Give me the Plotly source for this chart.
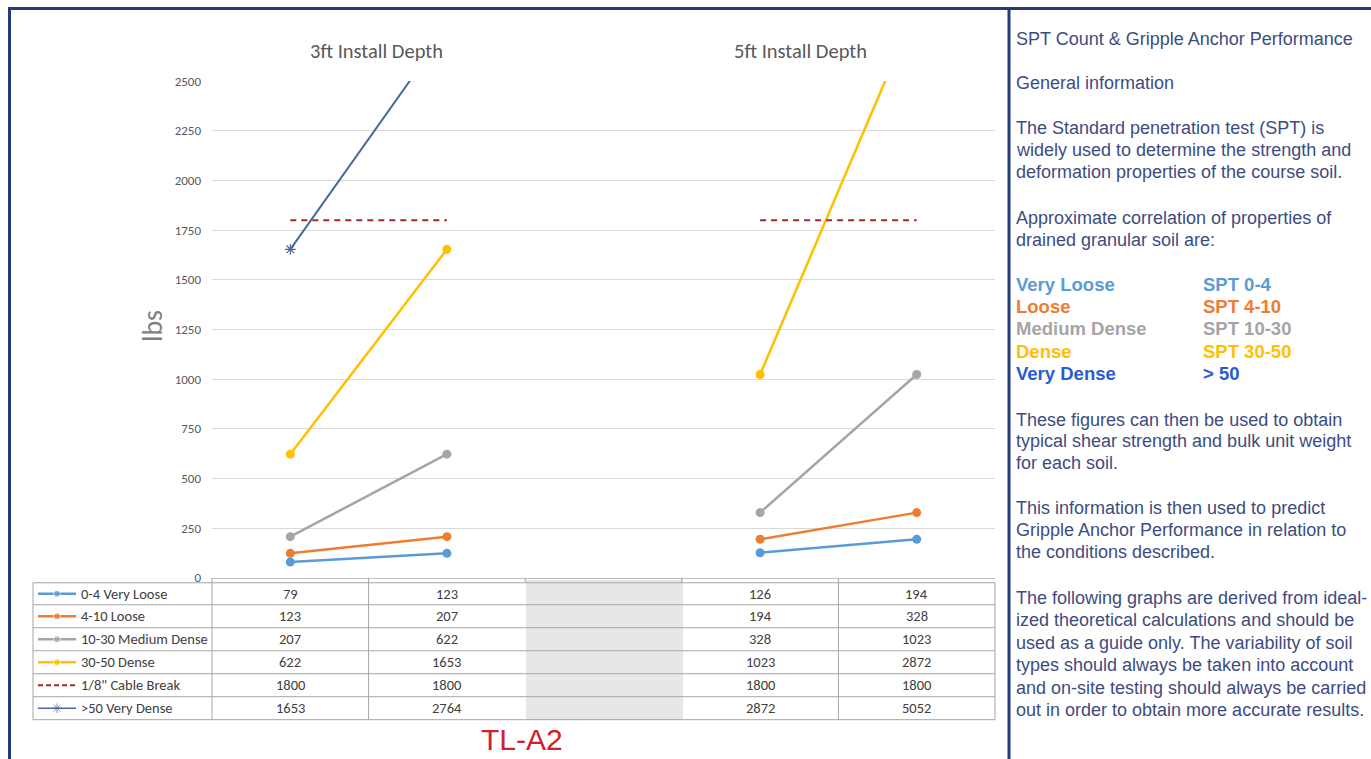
import plotly.graph_objects as go

W = 1371
# the photographed page shows the figure squeezed vertically (screen_y ~= 6.9 + 0.981*fig_y);
# layout positions below are given in screen pixels and converted.
SY0, SK = 6.9, 0.981
HF = 767

# ---------------- data ----------------
columns = ["3ft-a", "3ft-b", "gap", "5ft-a", "5ft-b"]
series_names = ["0-4 Very Loose", "4-10 Loose", "10-30 Medium Dense", "30-50 Dense",
                '1/8" Cable Break', ">50 Very Dense"]
very_loose = [79, 123, None, 126, 194]
loose = [123, 207, None, 194, 328]
medium_dense = [207, 622, None, 328, 1023]
dense = [622, 1653, None, 1023, 2872]
cable_break = [1800, 1800, None, 1800, 1800]
very_dense = [1653, 2764, None, 2872, 5052]
group_titles = ["3ft Install Depth", "5ft Install Depth"]
y_ticks = [0, 250, 500, 750, 1000, 1250, 1500, 1750, 2000, 2250, 2500]

series_values = [very_loose, loose, medium_dense, dense, cable_break, very_dense]
series_colors = ["#5B9BD5", "#ED7D31", "#A5A5A5", "#FFC000", "#A3282B", "#4A6898"]

def px(x):
    return x / W

def py(y):
    return 1 - ((y - SY0) / SK) / HF

cal = "Carlito, Lato, Open Sans"
fig = go.Figure()

# main series
for name, vals, col in zip(series_names, series_values, series_colors):
    if name.startswith("1/8"):
        fig.add_trace(go.Scatter(x=columns, y=vals, mode="lines", name=name,
                                 line=dict(color=col, width=2, dash="6px,5px"),
                                 connectgaps=False, showlegend=False))
    elif name.startswith(">50"):
        fig.add_trace(go.Scatter(x=columns, y=vals, mode="lines+markers", name=name,
                                 line=dict(color=col, width=2),
                                 marker=dict(symbol="asterisk-open", size=9,
                                             line=dict(color="#6F8FC0", width=1.2)),
                                 connectgaps=False, showlegend=False))
    else:
        fig.add_trace(go.Scatter(x=columns, y=vals, mode="lines+markers", name=name,
                                 line=dict(color=col, width=2.5),
                                 marker=dict(symbol="circle", size=9, color=col),
                                 connectgaps=False, showlegend=False))

# legend icons inside table (overlay pixel axes)
row_tops = [583, 605, 628, 651, 674, 697, 720]
row_centers = [(row_tops[i] + row_tops[i + 1]) / 2 for i in range(6)]
for i, (name, col) in enumerate(zip(series_names, series_colors)):
    yc = row_centers[i]
    if name.startswith("1/8"):
        fig.add_trace(go.Scatter(x=[38, 76], y=[yc, yc], mode="lines", xaxis="x2", yaxis="y2",
                                 line=dict(color=col, width=2, dash="5px,3px"), showlegend=False,
                                 hoverinfo="skip"))
    elif name.startswith(">50"):
        fig.add_trace(go.Scatter(x=[38, 57, 76], y=[yc, yc, yc], mode="lines+markers",
                                 xaxis="x2", yaxis="y2", line=dict(color=col, width=1.5),
                                 marker=dict(symbol="asterisk-open", size=[0, 8, 0],
                                             line=dict(color="#6F8FC0", width=1)),
                                 showlegend=False, hoverinfo="skip"))
    else:
        fig.add_trace(go.Scatter(x=[38, 57, 76], y=[yc, yc, yc], mode="lines+markers",
                                 xaxis="x2", yaxis="y2", line=dict(color=col, width=2.5),
                                 marker=dict(symbol="circle", size=[0, 7, 0], color=col),
                                 showlegend=False, hoverinfo="skip"))

shapes = []
annotations = []

# outer borders
navy = "#243B7A"
shapes.append(dict(type="line", xref="paper", yref="paper", x0=px(8), x1=px(1371),
                   y0=py(8.5), y1=py(8.5), line=dict(color=navy, width=3)))
shapes.append(dict(type="line", xref="paper", yref="paper", x0=px(9.5), x1=px(9.5),
                   y0=py(7), y1=0, line=dict(color=navy, width=3)))
shapes.append(dict(type="line", xref="paper", yref="paper", x0=px(1009), x1=px(1009),
                   y0=py(7), y1=0, line=dict(color=navy, width=3)))

# table
grid = "#A6A6A6"
shapes.append(dict(type="rect", xref="paper", yref="paper", x0=px(526), x1=px(683),
                   y0=py(580), y1=py(720), fillcolor="#E6E7E9", line=dict(width=0), layer="below"))
for yt in row_tops:
    shapes.append(dict(type="line", xref="paper", yref="paper", x0=px(33), x1=px(995),
                       y0=py(yt), y1=py(yt), line=dict(color=grid, width=1)))
for xv in [33, 212, 995]:
    shapes.append(dict(type="line", xref="paper", yref="paper", x0=px(xv), x1=px(xv),
                       y0=py(583 if xv != 212 else 578), y1=py(720), line=dict(color=grid, width=1)))
for b in [0.5, 1.5, 2.5, 3.5]:
    shapes.append(dict(type="line", xref="x", yref="paper", x0=b, x1=b,
                       y0=py(578), y1=py(720 if b in (0.5, 3.5) else 583),
                       line=dict(color=grid, width=1)))

# table texts
for i, (name, vals) in enumerate(zip(series_names, series_values)):
    yc = py(row_centers[i])
    annotations.append(dict(x=px(79), y=yc, xref="paper", yref="paper", text=name,
                            showarrow=False, xanchor="left", yanchor="middle",
                            font=dict(family=cal, size=14.5, color="#404040")))
    for j, v in enumerate(vals):
        if v is None:
            continue
        annotations.append(dict(x=j, y=yc, xref="x", yref="paper", text=str(v),
                                showarrow=False, xanchor="center", yanchor="middle",
                                font=dict(family=cal, size=14.5, color="#404040")))

# group titles
for g, title in enumerate(group_titles):
    annotations.append(dict(x=px(376 if g == 0 else 801), y=py(51), xref="paper", yref="paper",
                            text=title, showarrow=False, xanchor="center", yanchor="middle",
                            font=dict(family=cal, size=20.5, color="#595959")))

# y title
annotations.append(dict(x=px(153), y=py(326), xref="paper", yref="paper", text="lbs",
                        showarrow=False, textangle=-90, xanchor="center", yanchor="middle",
                        font=dict(family=cal, size=28, color="#7F7F7F")))

# TL-A2
annotations.append(dict(x=px(522), y=py(740), xref="paper", yref="paper", text="TL-A2",
                        showarrow=False, xanchor="center", yanchor="middle",
                        font=dict(family="Liberation Sans", size=30, color="#D0202E")))

# right panel text
txt = "#3D4C80"
fam = "Liberation Sans, Arial"
plain_lines = [
    ("SPT Count & Gripple Anchor Performance", 39),
    ("General information", 83),
    ("The Standard penetration test (SPT) is", 128),
    ("widely used to determine the strength and", 150),
    ("deformation properties of the course soil.", 172),
    ("Approximate correlation of properties of", 218),
    ("drained granular soil are:", 240),
    ("These figures can then be used to obtain", 420),
    ("typical shear strength and bulk unit weight", 441),
    ("for each soil.", 463),
    ("This information is then used to predict", 508),
    ("Gripple Anchor Performance in relation to", 530),
    ("the conditions described.", 552),
    ("The following graphs are derived from ideal-", 598),
    ("ized theoretical calculations and should be", 620),
    ("used as a guide only. The variability of soil", 643),
    ("types should always be taken into account", 665),
    ("and on-site testing should always be carried", 688),
    ("out in order to obtain more accurate results.", 710),
]
for t, yy in plain_lines:
    annotations.append(dict(x=px(1014), y=py(yy), xref="paper", yref="paper", text=t,
                            showarrow=False, xanchor="left", yanchor="middle",
                            font=dict(family=fam, size=18, color=txt)))

soil_classes = ["Very Loose", "Loose", "Medium Dense", "Dense", "Very Dense"]
spt_ranges = ["SPT 0-4", "SPT 4-10", "SPT 10-30", "SPT 30-50", "> 50"]
class_colors = ["#5B9BD5", "#ED7D31", "#A5A5A5", "#FFC000", "#2B5BD0"]
class_y = [285, 307, 329, 352, 374]
for cls, rng, col, yy in zip(soil_classes, spt_ranges, class_colors, class_y):
    annotations.append(dict(x=px(1014), y=py(yy), xref="paper", yref="paper", text="<b>%s</b>" % cls,
                            showarrow=False, xanchor="left", yanchor="middle",
                            font=dict(family=fam, size=18.5, color=col)))
    annotations.append(dict(x=px(1201), y=py(yy), xref="paper", yref="paper", text="<b>%s</b>" % rng,
                            showarrow=False, xanchor="left", yanchor="middle",
                            font=dict(family=fam, size=18.5, color=col)))

fig.update_layout(
    width=W, height=HF, autosize=False, margin=dict(l=0, r=0, t=0, b=0),
    paper_bgcolor="white", plot_bgcolor="rgba(0,0,0,0)",
    shapes=shapes, annotations=annotations, showlegend=False,
    xaxis=dict(domain=[px(212), px(995)], type="category", categoryorder="array",
               categoryarray=columns, range=[-0.5, 4.5], showticklabels=False,
               showgrid=False, zeroline=False, showline=True, linecolor="#BFBFBF",
               ticks="", fixedrange=True),
    yaxis=dict(domain=[py(578), py(81)], range=[0, 2500], tickvals=y_ticks,
               showgrid=True, gridcolor="#D9D9D9", gridwidth=1, zeroline=False,
               showline=False, ticks="", ticklabelstandoff=10,
               tickfont=dict(family=cal, size=13, color="#595959")),
    xaxis2=dict(domain=[0, 1], range=[0, W], visible=False, anchor="y2"),
    yaxis2=dict(domain=[0, 1], range=[SY0 + SK * HF, SY0], visible=False, anchor="x2"),
)

fig.write_html("out.html", config={"displayModeBar": False},
               post_script="document.body.style.margin='0';")
